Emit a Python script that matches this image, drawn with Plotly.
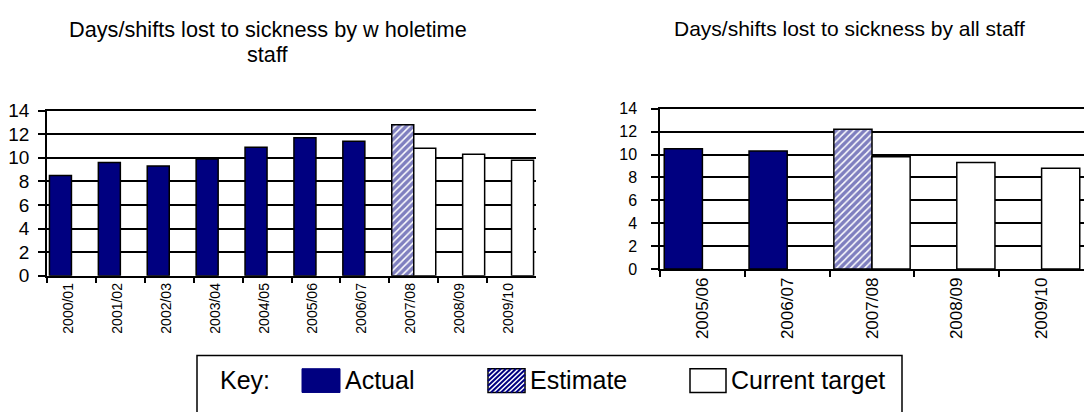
import plotly.graph_objects as go

# ---------------- data ----------------
wt_years = ["2000/01", "2001/02", "2002/03", "2003/04", "2004/05",
            "2005/06", "2006/07", "2007/08", "2008/09", "2009/10"]
wt_actual = [8.5, 9.6, 9.3, 9.9, 10.9, 11.7, 11.4, None, None, None]
wt_estimate = [None, None, None, None, None, None, None, 12.8, None, None]
wt_target = [None, None, None, None, None, None, None, 10.8, 10.3, 9.8]

all_years = ["2005/06", "2006/07", "2007/08", "2008/09", "2009/10"]
all_actual = [10.5, 10.3, None, None, None]
all_estimate = [None, None, 12.2, None, None]
all_target = [None, None, 9.8, 9.3, 8.8]

left_title = ["Days/shifts lost to sickness by w holetime", "staff"]
right_title = "Days/shifts lost to sickness by all staff"
key_labels = ["Actual", "Estimate", "Current target"]

# ---------------- styling ----------------
W, H = 1085, 412
NAVY = "#000080"
FONT = "Liberation Sans, Arial, sans-serif"


def xp(px):
    return px / W


def yp(py):
    return 1 - py / H


fig = go.Figure()


def add_series(xs, actual, estimate, target, xa, ya):
    fig.add_trace(go.Bar(x=xs, y=actual, name="Actual", offsetgroup="a",
                         marker=dict(color=NAVY, line=dict(color="black", width=1.5)),
                         xaxis=xa, yaxis=ya, showlegend=False))
    fig.add_trace(go.Bar(x=xs, y=estimate, name="Estimate", offsetgroup="a",
                         marker=dict(color="white", line=dict(color="black", width=1.5),
                                     pattern=dict(shape="/", fgcolor=NAVY, bgcolor="white",
                                                  size=5, solidity=0.7)),
                         xaxis=xa, yaxis=ya, showlegend=False))
    fig.add_trace(go.Bar(x=xs, y=target, name="Current target", offsetgroup="b",
                         marker=dict(color="white", line=dict(color="black", width=1.5)),
                         xaxis=xa, yaxis=ya, showlegend=False))


add_series(wt_years, wt_actual, wt_estimate, wt_target, "x", "y")
add_series(all_years, all_actual, all_estimate, all_target, "x2", "y2")

yax = dict(range=[0, 14], dtick=2, showgrid=True, gridcolor="black", gridwidth=1.5,
           showline=True, linecolor="black", linewidth=1.5, ticks="outside",
           ticklen=7, tickcolor="black", tickwidth=1.5, zeroline=False, fixedrange=True)
xax = dict(showline=True, mirror=True, linecolor="black", linewidth=1.5, ticks="outside",
           tickson="boundaries", ticklen=6, tickcolor="black", tickwidth=1.5,
           tickangle=-90, showgrid=False, fixedrange=True)

fig.update_layout(
    width=W, height=H,
    margin=dict(l=0, r=0, t=0, b=0),
    paper_bgcolor="white", plot_bgcolor="white",
    barmode="group", bargap=0.1, bargroupgap=0,
    font=dict(family=FONT, color="black"),
    xaxis=dict(xax, domain=[xp(47), xp(536)], anchor="y", ticklabelshift=-3,
               tickfont=dict(size=14, family=FONT, color="black")),
    yaxis=dict(yax, domain=[yp(280), yp(106)], anchor="x", ticklabelstandoff=5,
               tickfont=dict(size=19, family=FONT, color="black")),
    xaxis2=dict(xax, domain=[xp(660), xp(1084)], anchor="y2",
                tickfont=dict(size=17, family=FONT, color="black")),
    yaxis2=dict(yax, domain=[yp(273), yp(104)], anchor="x2", ticklabelstandoff=11,
                tickfont=dict(size=16, family=FONT, color="black")),
)

LFONT = dict(size=21.7, family=FONT, color="black")
RFONT = dict(size=21, family=FONT, color="black")
annotations = [
    dict(text=left_title[0], x=xp(268), y=yp(21), xref="paper", yref="paper",
         xanchor="center", yanchor="middle", showarrow=False, font=LFONT),
    dict(text=left_title[1], x=xp(268), y=yp(47), xref="paper", yref="paper",
         xanchor="center", yanchor="middle", showarrow=False, font=LFONT),
    dict(text=right_title, x=xp(849), y=yp(19), xref="paper", yref="paper",
         xanchor="center", yanchor="middle", showarrow=False, font=RFONT),
]

KFONT = dict(size=25, family=FONT, color="black")
KY = 390
annotations.append(dict(text="Key:", x=xp(218), y=yp(KY), xref="paper", yref="paper",
                        xanchor="left", yanchor="middle", showarrow=False, font=KFONT))

# key swatches / labels
swatches = [(302, 340), (488, 525), (690, 726)]
sy0, sy1 = 378, 403
for (x0, x1), label in zip(swatches, key_labels):
    annotations.append(dict(text=label, x=xp(x1 + 3), y=yp(KY), xref="paper", yref="paper",
                            xanchor="left", yanchor="middle", showarrow=False, font=KFONT))

(ax0, ax1), (ex0, ex1), (tx0, tx1) = swatches
shapes = [
    dict(type="rect", xref="paper", yref="paper", x0=xp(197), x1=xp(902),
         y0=yp(430), y1=yp(364), line=dict(color="black", width=1.5),
         fillcolor="rgba(0,0,0,0)"),
    dict(type="rect", xref="paper", yref="paper", x0=xp(ax0), x1=xp(ax1),
         y0=yp(sy1), y1=yp(sy0), line=dict(color=NAVY, width=1), fillcolor=NAVY),
    dict(type="rect", xref="paper", yref="paper", x0=xp(tx0), x1=xp(tx1),
         y0=yp(sy1), y1=yp(sy0), line=dict(color="black", width=1.5), fillcolor="white"),
    dict(type="rect", xref="paper", yref="paper", x0=xp(ex0), x1=xp(ex1),
         y0=yp(sy1), y1=yp(sy0), line=dict(color="black", width=1.5), fillcolor="white"),
]

# hatch lines for the estimate swatch
path = ""
c = ex0 + sy0 + 3
while c < ex1 + sy1:
    xa = max(ex0, c - sy1)
    xb = min(ex1, c - sy0)
    if xb > xa:
        path += f"M{xp(xa)},{yp(c - xa)}L{xp(xb)},{yp(c - xb)}"
    c += 5
shapes.append(dict(type="path", xref="paper", yref="paper", path=path,
                   line=dict(color=NAVY, width=2)))

fig.update_layout(annotations=annotations, shapes=shapes)

fig.write_html("out.html", config={"displayModeBar": False},
               post_script="document.body.style.margin='0px';")
